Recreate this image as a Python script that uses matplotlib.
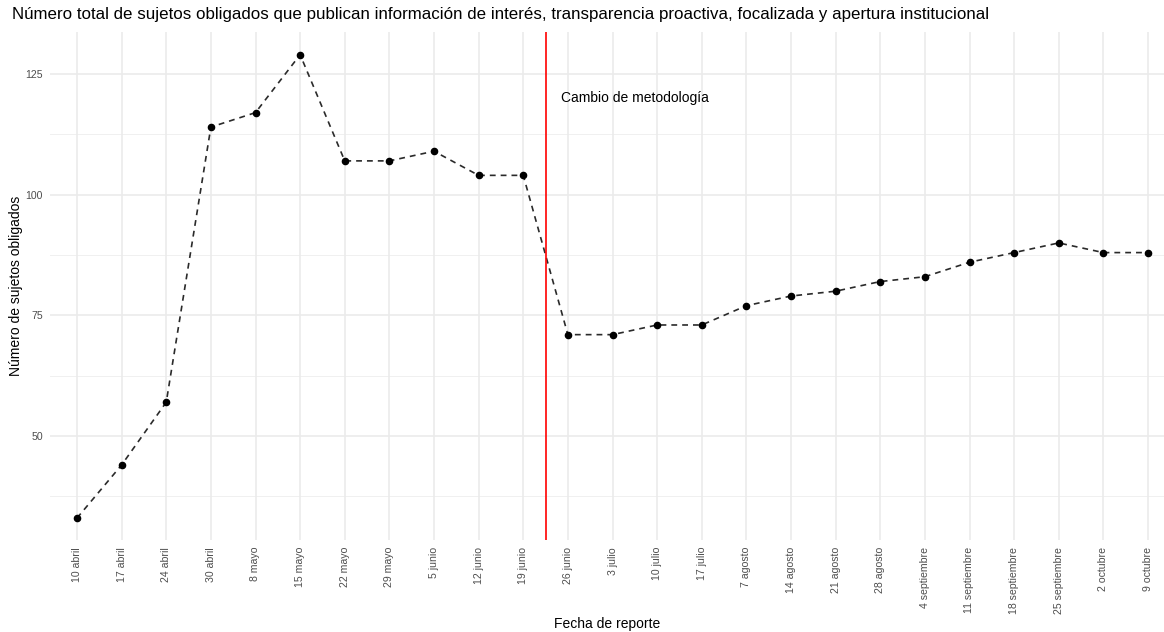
import matplotlib
matplotlib.use("Agg")
import matplotlib.pyplot as plt
import numpy as np

fechas = ["10 abril", "17 abril", "24 abril", "30 abril", "8 mayo", "15 mayo",
          "22 mayo", "29 mayo", "5 junio", "12 junio", "19 junio", "26 junio",
          "3 julio", "10 julio", "17 julio", "7 agosto", "14 agosto", "21 agosto",
          "28 agosto", "4 septiembre", "11 septiembre", "18 septiembre",
          "25 septiembre", "2 octubre", "9 octubre"]
sujetos = [33, 44, 57, 114, 117, 129, 107, 107, 109, 104, 104, 71, 71, 73, 73,
           77, 79, 80, 82, 83, 86, 88, 90, 88, 88]
y_ticks = [50, 75, 100, 125]
y_minor = [37.5, 62.5, 87.5, 112.5]
corte = 10.5
nota = "Cambio de metodología"
nota_x = 12.5
nota_y = 120

plt.rcParams['font.family'] = ['Liberation Sans', 'DejaVu Sans']

W, H = 1164, 632
fig = plt.figure(figsize=(W / 100, H / 100), dpi=100)
left, right, top, bottom = 50, 1164, 32, 540
ax = fig.add_axes([left / W, 1 - bottom / H, (right - left) / W, (bottom - top) / H])

x = np.arange(len(fechas))
step = (1148 - 77) / 24
ax.set_xlim(-(77 - left) / step, 24 + (right - 1148) / step)
ymin = 125 - (bottom - 74) / ((436 - 74) / 75)
ymax = 125 + (74 - top) / ((436 - 74) / 75)
ax.set_ylim(ymin, ymax)

for s in ax.spines.values():
    s.set_visible(False)
ax.set_facecolor('white')

for yv in y_ticks:
    ax.axhline(yv, color='#EBEBEB', lw=1.2, zorder=0)
for yv in y_minor:
    ax.axhline(yv, color='#F0F0F0', lw=0.7, zorder=0)
for xv in x:
    ax.axvline(xv, color='#EBEBEB', lw=1.2, zorder=0)

ax.plot(x, sujetos, linestyle=(0, (3.5, 3.0)), color='#2A2A2A', lw=1.2, zorder=2)
ax.scatter(x, sujetos, s=20, color='black', zorder=3)
ax.axvline(corte, color='#FF0000', lw=1.2, zorder=4)
ax.text(nota_x, nota_y, nota, ha='center', va='center', fontsize=10, color='black')

ax.set_xticks(x)
ax.set_xticklabels(fechas, rotation=90, fontsize=7.6, color='#4D4D4D')
ax.set_yticks(y_ticks)
ax.set_yticklabels([str(v) for v in y_ticks], fontsize=7.6, color='#4D4D4D')
ax.tick_params(length=0, pad=5)

fig.text(12 / W, 1 - 15 / H, "Número total de sujetos obligados que publican información de interés, transparencia proactiva, focalizada y apertura institucional",
         ha='left', va='center', fontsize=12.2, color='black')
fig.text(607 / W, 1 - 624 / H, "Fecha de reporte", ha='center', va='center', fontsize=10)
fig.text(16 / W, 1 - 286 / H, "Número de sujetos obligados", ha='center', va='center', fontsize=10, rotation=90)

fig.savefig("out.png", dpi=100)
